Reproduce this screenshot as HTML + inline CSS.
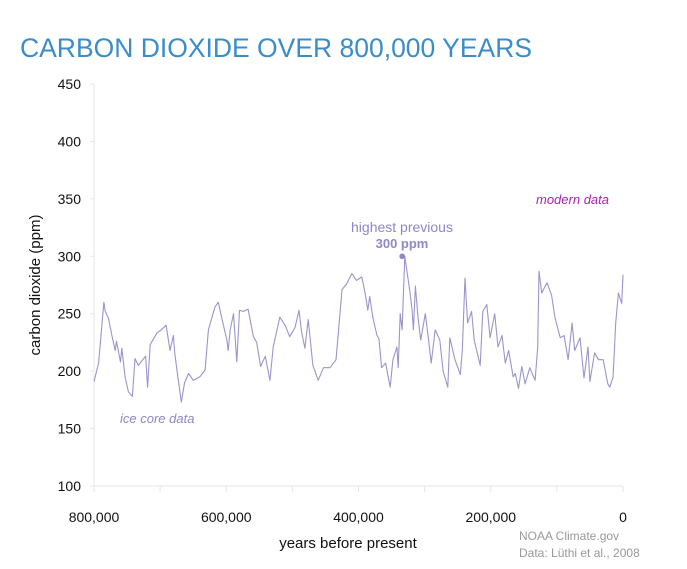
<!DOCTYPE html>
<html><head><meta charset="utf-8"><style>
body{margin:0;background:#fff;width:687px;height:564px;overflow:hidden;font-family:"Liberation Sans",sans-serif}
svg text{font-family:"Liberation Sans",sans-serif}
</style></head><body>
<svg id="chart" width="687" height="564" xmlns="http://www.w3.org/2000/svg">
<text x="20" y="57" font-size="27" fill="#3a8dc8" textLength="512" lengthAdjust="spacingAndGlyphs">CARBON DIOXIDE OVER 800,000 YEARS</text>
<g id="axes"></g>
<path id="line" fill="none" stroke="#9a95cb" stroke-width="1.1" stroke-linejoin="round"/>
<circle id="peak" r="2.8" fill="#8e88c4"/>
<text x="402" y="232" font-size="14" fill="#8e88c4" text-anchor="middle">highest previous</text>
<text x="402" y="248" font-size="13" font-weight="bold" fill="#8e88c4" text-anchor="middle">300 ppm</text>
<text x="536" y="204" font-size="13" font-style="italic" fill="#b21fae">modern data</text>
<text x="120" y="423" font-size="13" font-style="italic" fill="#8e88c4">ice core data</text>
<text transform="translate(40,285) rotate(-90)" font-size="15" fill="#111" text-anchor="middle">carbon dioxide (ppm)</text>
<text x="348" y="548" font-size="15" fill="#111" text-anchor="middle">years before present</text>
<text x="519" y="540" font-size="12" fill="#999">NOAA Climate.gov</text>
<text x="519" y="557" font-size="12" fill="#999">Data: Lüthi et al., 2008</text>
</svg>
<script>
const kya=[800,793,785,783,778,773,768,766,760,758,753,748,742,738,733,722,719,715,705,698,691,685,680,678,673,668,663,657,650,640,632,627,617,612,607,599,597,594,589,584,580,574,567,559,554,548,541,534,529,519,511,504,496,490,486,481,476,469,461,453,443,434,431,425,418,410,403,395,390,386,383,378,372,369,365,359,352,348,342,340,337,334,330,322,319,317,314,310,306,299,294,290,284,277,272,265,262,254,246,243,239,235,229,225,216,212,206,201,194,189,183,178,173,166,163,158,153,148,141,133,129,127,123,115,108,103,95,89,83,77,73,65,59,53,50,43,37,30,23,20,15,11,7,2,0];
const ppm=[191,207,260,252,246,231,218,226,208,220,195,182,178,211,205,213,186,223,233,236,240,218,231,216,194,173,190,198,192,195,201,236,256,260,247,227,218,236,250,208,253,252,254,230,225,204,213,192,221,247,240,230,238,253,234,220,245,205,192,203,203,210,230,271,276,285,279,282,268,253,265,246,231,228,203,207,186,210,221,203,250,236,300,268,253,236,274,247,227,250,227,207,236,227,200,186,229,210,197,218,281,242,252,227,205,252,258,229,250,221,231,207,218,195,198,185,204,189,203,192,221,287,268,277,266,247,229,231,210,242,218,229,194,221,191,216,210,210,189,186,195,242,268,259,284,280];
const yTicks=[100,150,200,250,300,350,400,450];
const xTicks=[800,700,600,500,400,300,200,100,0];
const xLabels=["800,000","","600,000","","400,000","","200,000","","0"];
const peakK=334, peakV=300;
const X=k=>623-(k/800)*529, Y=v=>486-(v-100)/350*402;
const ns="http://www.w3.org/2000/svg", ax=document.getElementById('axes');
function mk(t,a){const e=document.createElementNS(ns,t);for(const k in a)e.setAttribute(k,a[k]);ax.appendChild(e);return e;}
const yl=mk('line',{x1:94,x2:94,y1:Y(450),y2:486,stroke:'#e6e6e6'});


const xl=mk('line',{x1:90,x2:623,y1:486,y2:486,stroke:'#e6e6e6'});


yTicks.forEach(v=>{
 const t=mk('line',{x1:90,x2:94,y1:Y(v),y2:Y(v),stroke:'#e6e6e6'});
 
 
 const l=mk('text',{x:81,y:Y(v)+5,'font-size':14,'text-anchor':'end',fill:'#111'});l.textContent=v;
 
 
});
xTicks.forEach((k,i)=>{
 const t=mk('line',{x1:X(k),x2:X(k),y1:486,y2:492,stroke:'#e6e6e6'});
 
 
 if(xLabels[i]){const l=mk('text',{x:X(k),y:522,'font-size':14,'text-anchor':'middle',fill:'#111'});l.textContent=xLabels[i];
 
 }
});
document.getElementById('line').setAttribute('d',kya.map((k,i)=>(i?'L':'M')+X(k).toFixed(1)+','+Y(ppm[i]).toFixed(1)).join(''));
const p=document.getElementById('peak');p.setAttribute('cx',X(peakK));p.setAttribute('cy',Y(peakV));
</script>
</body></html>
